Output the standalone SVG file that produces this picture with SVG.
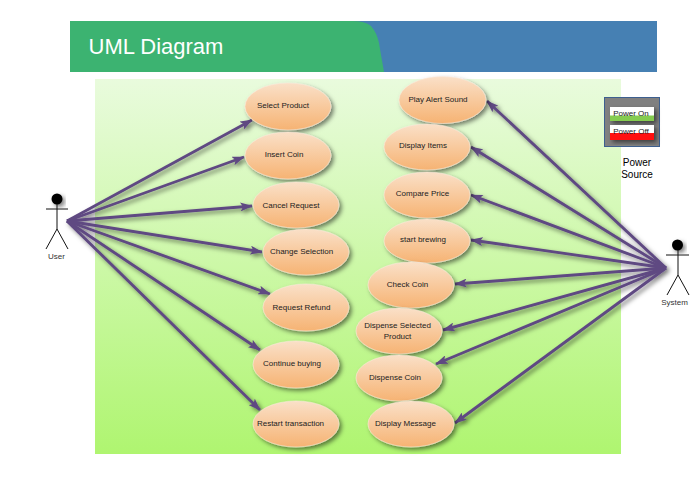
<svg xmlns="http://www.w3.org/2000/svg" width="699" height="481" viewBox="0 0 699 481">
<style>
text{font-family:"Liberation Sans",Arial,sans-serif;fill:#222;text-anchor:middle}
.uc text{font-size:8px}
.uc ellipse{fill:url(#oval);stroke:#fbeadb;stroke-width:.6;filter:url(#sh)}
.c{fill:none;stroke:#5f4a82;stroke-width:2.9;marker-end:url(#ah)}
.act{fill:none;stroke:#111;stroke-width:1}
.act text{font-size:8px;fill:#333;stroke:none}
</style>
<defs>
<linearGradient id="bg" x1="0" y1="0" x2="0" y2="1"><stop offset="0" stop-color="#e9fbdd"/><stop offset="1" stop-color="#aff570"/></linearGradient>
<linearGradient id="oval" x1="0" y1="0" x2="0" y2="1"><stop offset="0" stop-color="#fae0c8"/><stop offset="1" stop-color="#f6b373"/></linearGradient>
<filter id="sh" x="-20%" y="-20%" width="150%" height="150%"><feDropShadow dx="2.5" dy="2.5" stdDeviation="2" flood-color="#000" flood-opacity=".5"/></filter>
<marker id="ah" viewBox="0 0 14 10" refX="13" refY="5" markerUnits="userSpaceOnUse" markerWidth="13" markerHeight="9" orient="auto"><path d="M0 0L14 5L0 10L3 5Z" fill="#5f4a82"/></marker>
</defs>
<g id="header">
<rect x="70" y="21" width="587" height="51" fill="#4680b3"/>
<path d="M70 21H352Q365 21 371 26Q377 33 379 43Q381 55 384 72H70Z" fill="#3cb371"/>
<text x="156" y="54" style="font-size:22px;fill:#fff">UML Diagram</text>
</g>
<rect id="background" x="95" y="79" width="526" height="375" fill="url(#bg)"/>
<g id="connectors" filter="url(#sh)">
<line class="c" x1="67" y1="221" x2="252" y2="120"/>
<line class="c" x1="67" y1="221" x2="244" y2="157"/>
<line class="c" x1="67" y1="221" x2="252" y2="206"/>
<line class="c" x1="67" y1="221" x2="262" y2="252"/>
<line class="c" x1="67" y1="221" x2="270" y2="294"/>
<line class="c" x1="67" y1="221" x2="260" y2="350"/>
<line class="c" x1="67" y1="221" x2="260" y2="410"/>
<line class="c" x1="666" y1="268" x2="487" y2="101"/>
<line class="c" x1="666" y1="268" x2="471" y2="147"/>
<line class="c" x1="666" y1="268" x2="471" y2="195"/>
<line class="c" x1="666" y1="268" x2="471" y2="240"/>
<line class="c" x1="666" y1="268" x2="455" y2="284"/>
<line class="c" x1="666" y1="268" x2="443" y2="330"/>
<line class="c" x1="666" y1="268" x2="436" y2="364"/>
<line class="c" x1="666" y1="268" x2="455" y2="423"/>
</g>
<g id="select-product" class="uc"><ellipse cx="288" cy="106.500" rx="43" ry="23.500"/><text x="283" y="108">Select Product</text></g>
<g id="insert-coin" class="uc"><ellipse cx="288" cy="155.500" rx="43" ry="23.500"/><text x="284" y="157">Insert Coin</text></g>
<g id="cancel-request" class="uc"><ellipse cx="296" cy="205" rx="43" ry="23"/><text x="291" y="208">Cancel Request</text></g>
<g id="change-selection" class="uc"><ellipse cx="306" cy="252" rx="43" ry="23"/><text x="301.500" y="254">Change Selection</text></g>
<g id="request-refund" class="uc"><ellipse cx="306" cy="307.500" rx="43" ry="23.500"/><text x="301.500" y="310">Request Refund</text></g>
<g id="continue-buying" class="uc"><ellipse cx="296" cy="364.500" rx="43" ry="23.500"/><text x="292" y="366">Continue buying</text></g>
<g id="restart-transaction" class="uc"><ellipse cx="296" cy="424" rx="43" ry="23"/><text x="290.500" y="426">Restart transaction</text></g>
<g id="play-alert-sound" class="uc"><ellipse cx="442.500" cy="100" rx="43.500" ry="23.500"/><text x="438" y="102">Play Alert Sound</text></g>
<g id="display-items" class="uc"><ellipse cx="427" cy="147" rx="43" ry="23"/><text x="423" y="148">Display Items</text></g>
<g id="compare-price" class="uc"><ellipse cx="427" cy="195" rx="43" ry="23"/><text x="422.500" y="196">Compare Price</text></g>
<g id="start-brewing" class="uc"><ellipse cx="427" cy="241" rx="43" ry="22"/><text x="423" y="242">start brewing</text></g>
<g id="check-coin" class="uc"><ellipse cx="411" cy="285" rx="43" ry="23"/><text x="407.500" y="287">Check Coin</text></g>
<g id="dispense-selected-product" class="uc"><ellipse cx="399" cy="331" rx="43" ry="23"/><text x="397.500" y="328">Dispense Selected</text><text x="397.500" y="339">Product</text></g>
<g id="dispense-coin" class="uc"><ellipse cx="399" cy="378" rx="43" ry="23"/><text x="395" y="380">Dispense Coin</text></g>
<g id="display-message" class="uc"><ellipse cx="411" cy="424" rx="43" ry="23"/><text x="405.500" y="426">Display Message</text></g>
<g id="user" class="act">
<circle cx="57" cy="199" r="5.500" fill="#000" stroke="none" filter="url(#sh)"/>
<path d="M46 209H68M57 204V229L46 249M57 229L68 249"/>
<text x="56.500" y="259">User</text>
</g>
<g id="system" class="act">
<circle cx="677.500" cy="245" r="5.500" fill="#000" stroke="none" filter="url(#sh)"/>
<path d="M666 255H689M678 250V275L667 295M678 275L689 295"/>
<text x="674.500" y="305">System</text>
</g>
<g id="power-source">
<rect x="604.500" y="97.500" width="55" height="49" fill="#808080" stroke="#3d5f8f"/>
<g filter="url(#sh)"><rect x="610" y="107" width="44" height="14" fill="#fff"/></g>
<rect x="610" y="115.500" width="44" height="5.500" fill="#85cc50"/>
<g filter="url(#sh)"><rect x="610" y="125" width="44" height="15" fill="#fff"/></g>
<rect x="610" y="133" width="44" height="7" fill="#ff1010"/>
<text x="631" y="116" style="font-size:8px">Power On</text>
<text x="631" y="134" style="font-size:8px">Power Off</text>
<text x="637" y="166" style="font-size:10px;fill:#000">Power</text>
<text x="637" y="178" style="font-size:10px;fill:#000">Source</text>
</g>
</svg>
